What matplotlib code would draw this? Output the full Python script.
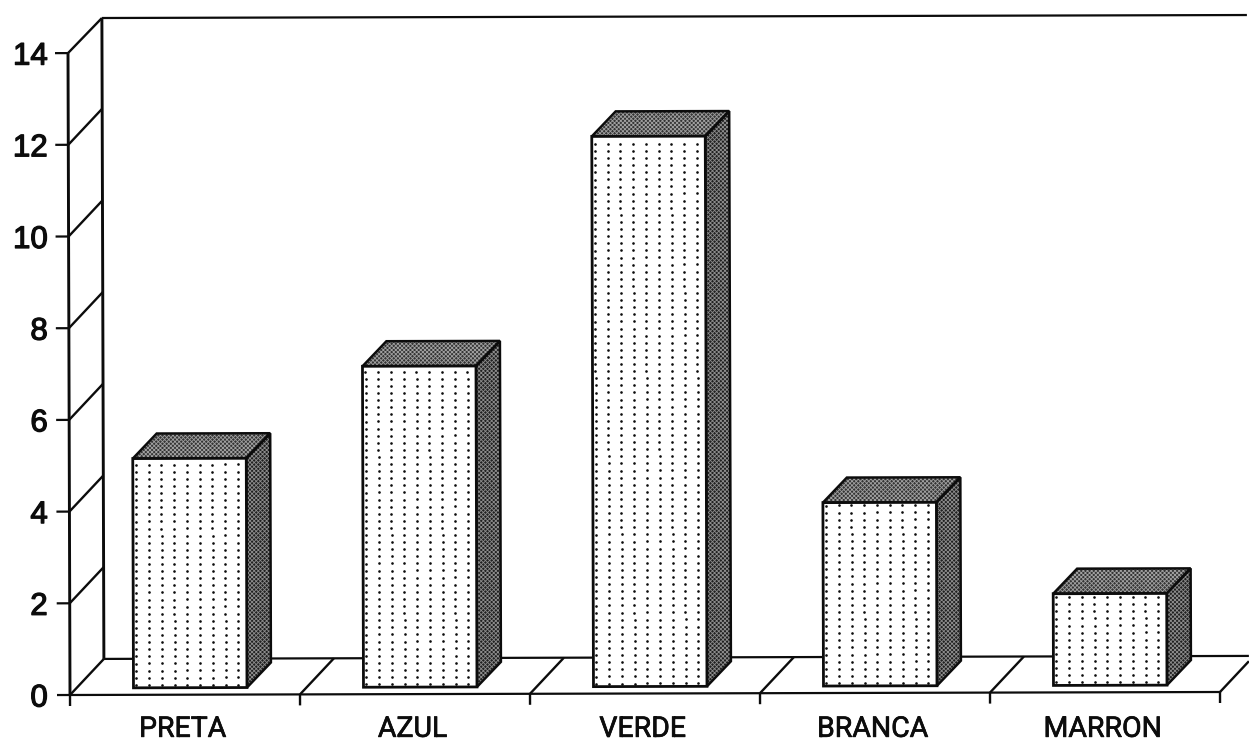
import numpy as np
import matplotlib
matplotlib.use("Agg")
import matplotlib.pyplot as plt
import matplotlib.patheffects as pe
from matplotlib.patches import Polygon
from matplotlib.transforms import Affine2D

categories = ["PRETA", "AZUL", "VERDE", "BRANCA", "MARRON"]
values = [5, 7, 12, 4, 2]
y_ticks = [0, 2, 4, 6, 8, 10, 12, 14]

W, H = 1249, 747
PX_X = 230.0    # px per category
PX_Y = 45.85    # px per value unit
X0, Y0 = 70, 695

plt.rcParams["hatch.linewidth"] = 0.6
fig = plt.figure(figsize=(W / 100, H / 100), dpi=100, facecolor="white")
ax = fig.add_axes([X0 / W, (H - Y0) / H, (W - X0) / W, 14 * PX_Y / H])
ax.set_xlim(0, (W - X0) / PX_X)
ax.set_ylim(0, 14)
for s in ax.spines.values():
    s.set_visible(False)
ax.patch.set_visible(False)

# slight scan tilt of the original page
ox, oy = X0, H - Y0
tilt = (Affine2D().translate(-ox, -oy)
        + Affine2D.from_values(1, 3 / 1150, -2 / 642, 1, 0, 0)
        + Affine2D().translate(ox, oy))
T = ax.transData + tilt

wx, wy = 34 / PX_X, 36 / PX_Y     # wall depth
bx, by = 24 / PX_X, 25 / PX_Y     # bar depth
bar_w = 113.5 / PX_X
bar_off = 63.5 / PX_X
bar_base = 7 / PX_Y
xmax = (W - X0) / PX_X
n = len(categories)
LC = "#0c0c0c"


def line(xs, ys, lw=1.7, z=2):
    ax.plot(xs, ys, color=LC, lw=lw, transform=T, clip_on=False, zorder=z,
            solid_capstyle="butt")


# walls and floor
line([0, 0], [0, 14], lw=2.1)
line([wx, wx], [wy, 14 + wy - 1 / PX_Y], lw=2.1)
line([wx, xmax], [14 + wy - 1 / PX_Y, 14 + wy - 1 / PX_Y], lw=1.6)
line([wx, xmax], [wy, wy], lw=1.6)
line([0, n], [0, 0], lw=1.6)
for v in y_ticks:
    top = v + wy - (1 / PX_Y if v == 14 else 0)
    line([0, wx], [v, top], lw=1.7)
    line([-13 / PX_X, 0], [v, v], lw=1.6)
for i in range(1, n + 1):
    x_end = min(i + wx, xmax)
    line([i, x_end], [0, (x_end - i) / wx * wy], lw=1.7)
line([0, 0], [0, -11 / PX_Y], lw=1.7)
for i in range(1, n + 1):
    line([i, i], [0, -11 / PX_Y], lw=1.7)

# bars
for i, v in enumerate(values):
    l, r = i + bar_off, i + bar_off + bar_w
    b, t = bar_base, bar_base + v
    top = [(l, t), (r, t), (r + bx, t + by), (l + bx, t + by)]
    side = [(r, b), (r + bx, b + by), (r + bx, t + by), (r, t)]
    front = [(l, b), (r, b), (r, t), (l, t)]
    ax.add_patch(Polygon(top, closed=True, facecolor="#343434", edgecolor="#a0a0a0",
                         hatch="xxxxxxxx", lw=0, transform=T, clip_on=False, zorder=3))
    ax.add_patch(Polygon(side, closed=True, facecolor="#202020", edgecolor="#8c8c8c",
                         hatch="xxxxxxxx", lw=0, transform=T, clip_on=False, zorder=3))
    ax.add_patch(Polygon(top, closed=True, fill=False, edgecolor=LC, lw=1.8,
                         transform=T, clip_on=False, zorder=4))
    ax.add_patch(Polygon(side, closed=True, fill=False, edgecolor=LC, lw=1.8,
                         transform=T, clip_on=False, zorder=4))
    ax.add_patch(Polygon(front, closed=True, facecolor="white", edgecolor=LC, lw=2.0,
                         transform=T, clip_on=False, zorder=5))
    # dotted fill of the front face
    gx = l + (np.arange(9) * 12.75 + 3) / PX_X
    gy = b + np.arange(3, v * PX_Y - 1, 7.1) / PX_Y
    xx, yy = np.meshgrid(gx, gy)
    ax.scatter(xx.ravel(), yy.ravel(), s=3.6, color=LC, linewidths=0,
               transform=T, clip_on=False, zorder=6)

# tick labels
ax.set_yticks(y_ticks, [str(v) for v in y_ticks])
ax.set_xticks(np.arange(n) + 0.49, categories)
ax.tick_params(axis="y", length=0, pad=16, labelsize=22.5, labelcolor=LC)
ax.tick_params(axis="x", length=0, pad=15, labelsize=20.5, labelcolor=LC)
for lab in ax.get_yticklabels():
    lab.set_fontfamily(["Liberation Sans", "DejaVu Sans"])
    lab.set_path_effects([pe.withStroke(linewidth=0.9, foreground=LC)])
for lab in ax.get_xticklabels():
    lab.set_fontfamily(["Roboto", "Liberation Sans", "DejaVu Sans"])
    lab.set_path_effects([pe.withStroke(linewidth=0.5, foreground=LC)])

fig.savefig("out.png", dpi=100)
